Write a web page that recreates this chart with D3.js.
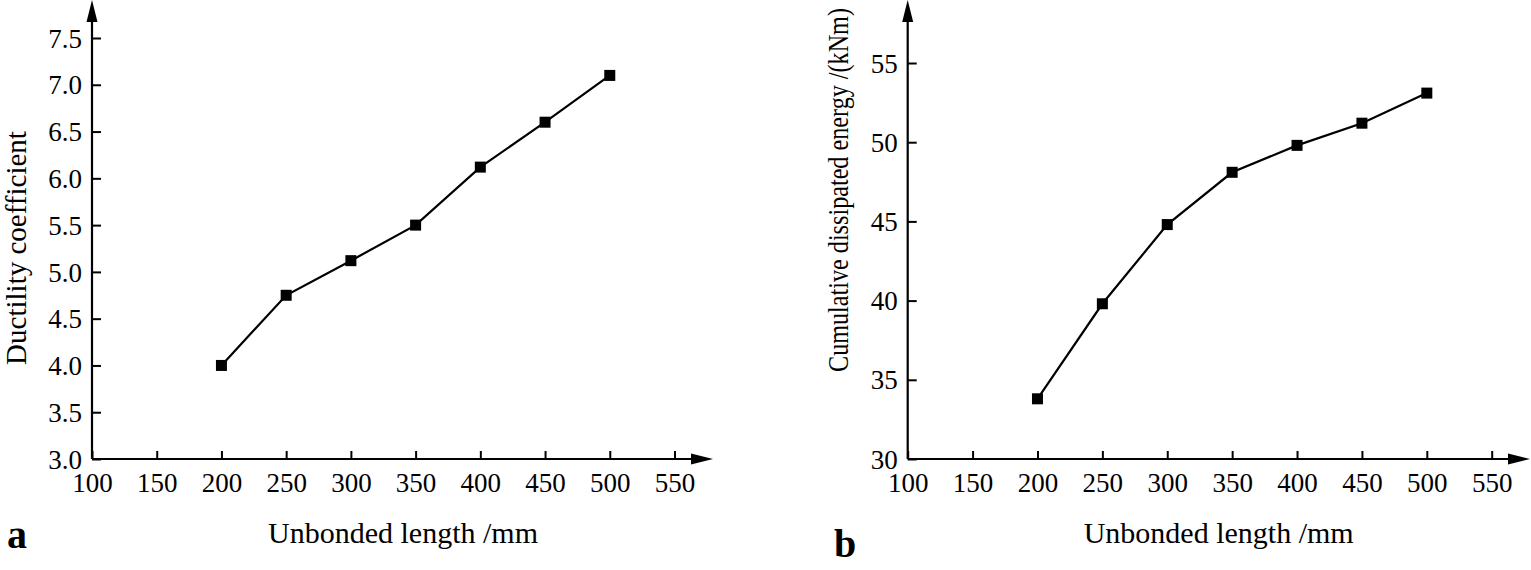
<!DOCTYPE html>
<html>
<head>
<meta charset="utf-8">
<script src="https://cdn.jsdelivr.net/npm/d3@7"></script>
<style>
  html, body { margin: 0; padding: 0; background: #fff; }
  svg { display: block; }
  text { font-family: "Liberation Serif", "Times New Roman", serif; fill: #000; }
</style>
</head>
<body>
<svg id="chart" width="1531" height="570"></svg>
<script>
// ---- data ----
const unbondedLength = [200, 250, 300, 350, 400, 450, 500];
const ductility = [4.0, 4.75, 5.12, 5.5, 6.12, 6.6, 7.1];
const dissipatedEnergy = [33.8, 39.8, 44.8, 48.1, 49.8, 51.2, 53.1];
const xTicks = [100, 150, 200, 250, 300, 350, 400, 450, 500, 550];
const yTicksA = [3.0, 3.5, 4.0, 4.5, 5.0, 5.5, 6.0, 6.5, 7.0, 7.5];
const yTicksB = [30, 35, 40, 45, 50, 55];

const svg = d3.select("#chart");

function panel(cfg) {
  const g = svg.append("g");
  const x = d3.scaleLinear().domain([100, 550]).range([cfg.x0, cfg.x1]);
  const y = d3.scaleLinear().domain(cfg.yDomain).range([cfg.y0, cfg.y1]);

  // x axis ticks/labels
  const xa = g.append("g").attr("transform", `translate(0,${cfg.y0})`)
    .call(d3.axisBottom(x).tickValues(xTicks).tickFormat(d3.format("d"))
      .tickSizeInner(-8).tickSizeOuter(0).tickPadding(14));
  xa.select(".domain").remove();
  xa.selectAll(".tick line").attr("stroke", "#000").attr("stroke-width", 2);
  xa.selectAll(".tick text").attr("font-size", 27).attr("dy", "0.71em")
    .style("font-family", "Liberation Serif");

  // y axis
  const ya = g.append("g").attr("transform", `translate(${cfg.x0},0)`)
    .call(d3.axisLeft(y).tickValues(cfg.yTicks).tickFormat(cfg.yFormat)
      .tickSizeInner(-9).tickSizeOuter(0).tickPadding(10));
  ya.select(".domain").remove();
  ya.selectAll(".tick line").attr("stroke", "#000").attr("stroke-width", 2);
  ya.selectAll(".tick text").attr("font-size", 27).attr("dy", "0.34em")
    .style("font-family", "Liberation Serif");

  // axis lines with arrows
  g.append("line").attr("x1", cfg.x0).attr("y1", cfg.y0).attr("x2", cfg.x0).attr("y2", 18)
    .attr("stroke", "#000").attr("stroke-width", 2.2);
  g.append("path").attr("d", `M${cfg.x0},0 L${cfg.x0 - 5.5},22 L${cfg.x0 + 5.5},22 Z`).attr("fill", "#000");
  g.append("line").attr("x1", cfg.x0).attr("y1", cfg.y0).attr("x2", cfg.arrowX - 18).attr("y2", cfg.y0)
    .attr("stroke", "#000").attr("stroke-width", 2.2);
  g.append("path").attr("d", `M${cfg.arrowX},${cfg.y0} L${cfg.arrowX - 22},${cfg.y0 - 5.5} L${cfg.arrowX - 22},${cfg.y0 + 5.5} Z`).attr("fill", "#000");

  // line + markers
  const pts = unbondedLength.map((d, i) => [d, cfg.values[i]]);
  g.append("path").datum(pts)
    .attr("d", d3.line().x(d => x(d[0])).y(d => y(d[1])))
    .attr("fill", "none").attr("stroke", "#000").attr("stroke-width", 2.2);
  g.selectAll("rect.m").data(pts).enter().append("rect")
    .attr("x", d => x(d[0]) - 5.5).attr("y", d => y(d[1]) - 5.5)
    .attr("width", 11).attr("height", 11).attr("fill", "#000");

  // titles
  g.append("text").attr("x", cfg.x0 + 311).attr("y", 543)
    .attr("text-anchor", "middle").attr("font-size", 30).text("Unbonded length /mm");
  const yt = g.append("text")
    .attr("text-anchor", "middle").attr("font-size", 29).text(cfg.yTitle);
  let sx = 1;
  if (cfg.yTitleLen) {
    const w = yt.node().getComputedTextLength();
    sx = Math.min(1, cfg.yTitleLen / w);
  }
  yt.attr("transform", `translate(${cfg.yTitleX},${cfg.yTitleY}) rotate(-90) scale(${sx},1)`);
  g.append("text").attr("x", cfg.letterX).attr("y", cfg.letterY)
    .attr("font-size", 40).attr("font-weight", "bold").text(cfg.letter);
}

panel({
  x0: 92, x1: 674.5, y0: 459, y1: 38, arrowX: 713,
  yDomain: [3, 7.5], yTicks: yTicksA, yFormat: d3.format(".1f"),
  values: ductility, yTitle: "Ductility coefficient", yTitleX: 26, yTitleY: 248,
  letter: "a", letterX: 7, letterY: 548
});
panel({
  x0: 907.7, x1: 1491.7, y0: 459, y1: 63, arrowX: 1530,
  yDomain: [30, 55], yTicks: yTicksB, yFormat: d3.format("d"),
  values: dissipatedEnergy, yTitle: "Cumulative dissipated energy /(kNm)", yTitleX: 848, yTitleY: 190,
  yTitleLen: 364,
  letter: "b", letterX: 834, letterY: 557
});
</script>
</body>
</html>
